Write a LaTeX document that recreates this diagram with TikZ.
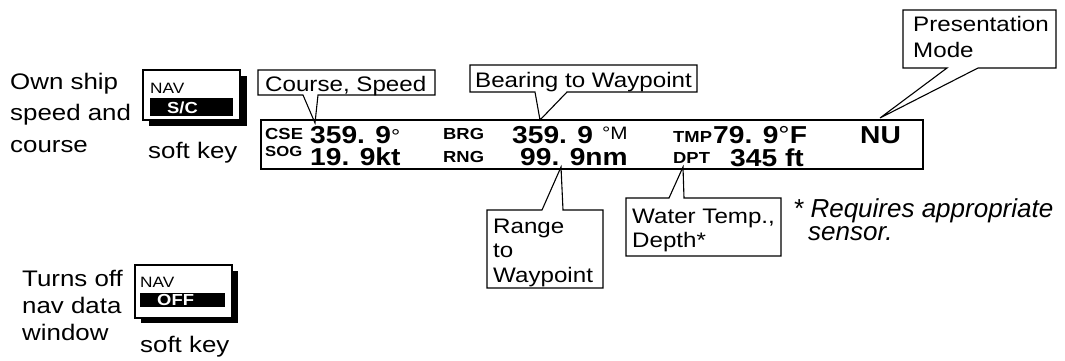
\documentclass[tikz,border=0pt]{standalone}
\usepackage{fontspec}
\setmainfont[FakeStretch=1.15]{Liberation Sans}
\newfontfamily\plainfont{Liberation Sans}
\newcommand\fs[2]{\fontsize{#1}{#2}\selectfont}
\newcommand\mlines[1]{\begin{tabular}[t]{@{}l@{}}#1\end{tabular}}
\begin{document}
\begin{tikzpicture}[x=1pt,y=-1pt,
  txt/.style={inner sep=0pt, anchor=base west},
  side/.style={txt, font=\fs{22.5}{31.5}},
  call/.style={txt, font=\fs{21}{25}},
  callbox/.style={draw, line width=1.1pt, line join=miter},
  lab/.style={txt, font=\bfseries\fs{16}{16}},
  val/.style={txt, font=\bfseries\fs{24.5}{25}},
  keytxt/.style={txt, font=\fs{15}{15}},
  keyon/.style={txt, font=\bfseries\fs{16}{16}, text=white}]
\useasboundingbox (0,0) rectangle (1065,361);

% ---- left labels
\node[side] (own) at (10,89) {\mlines{Own ship\\speed and\\course}};
\node[side, font=\fs{22.5}{27}] (turns) at (22,286) {\mlines{Turns off\\nav data\\window}};

% ---- soft key 1
\fill (149,76) rectangle (247,126);
\draw[fill=white, line width=1.2pt] (143,70) rectangle (240,120);
\fill (150,98) rectangle (233,116);
\node[keytxt] (nav1) at (150,93) {NAV};
\node[keyon] (sc) at (167,113) {S/C};
\node[side] (soft1) at (148,158) {soft key};

% ---- soft key 2
\fill (141,271) rectangle (238,323);
\draw[fill=white, line width=1.2pt] (135,265) rectangle (232,318);
\fill (140,293) rectangle (225,307);
\node[keytxt] (nav2) at (140,287) {NAV};
\node[keyon] (off) at (157,305) {OFF};
\node[side] (soft2) at (140,352) {soft key};

% ---- display window
\node[draw, line width=1.8pt, minimum width=662pt, minimum height=49pt,
      inner sep=0pt, anchor=north west] (disp) at (260,119) {};
\node[lab] (cse) at (265,139) {CSE};
\node[val] (cseval) at (310,143) {359. 9{\mdseries\fs{20}{20}°}};
\node[lab, font=\bfseries\fs{14.5}{15}] (sog) at (265,156) {SOG};
\node[val] (sogval) at (310,165) {19. 9kt};
\node[lab] (brg) at (443,139) {BRG};
\node[val] (brgval) at (512,143) {359. 9};
\node[txt, font=\fs{18}{18}] (brgunit) at (602,139) {°M};
\node[lab] (rng) at (443,162) {RNG};
\node[val] (rngval) at (520,165) {99. 9nm};
\node[lab] (tmp) at (673,142) {TMP};
\node[val] (tmpval) at (713,143) {79. 9{\mdseries°}F};
\node[lab] (dpt) at (673,163) {DPT};
\node[val] (dptval) at (730,166) {345 ft};
\node[val] (nu) at (860,143) {NU};

% ---- callouts
\coordinate (tipCS) at (315,123);
\draw[callbox] (258,70) -- (435,70) -- (435,95) -- (318,95) -- (tipCS) -- (303,95) -- (258,95) -- cycle;
\node[call] (cs) at (265,91) {Course, Speed};

\coordinate (tipBW) at (540,120);
\draw[callbox] (470,65) -- (697,65) -- (697,92) -- (567,92) -- (tipBW) -- (535,92) -- (470,92) -- cycle;
\node[call] (bw) at (475,87) {Bearing to Waypoint};

\coordinate (tipPM) at (880,118);
\draw[callbox] (903,10) -- (1056,10) -- (1056,68) -- (978,68) -- (tipPM) -- (947,68) -- (903,68) -- cycle;
\node[call, font=\fs{21}{26}] (pm) at (913,32) {\mlines{Presentation\\Mode}};

\coordinate (tipRW) at (561,167);
\draw[callbox] (487,210) -- (542,210) -- (tipRW) -- (563,210) -- (603,210) -- (603,288) -- (487,288) -- cycle;
\node[call, font=\fs{21}{24.5}] (rw) at (493,233) {\mlines{Range\\to\\Waypoint}};

\coordinate (tipWD) at (683,167);
\draw[callbox] (626,198) -- (669,198) -- (tipWD) -- (684,198) -- (781,198) -- (781,256) -- (626,256) -- cycle;
\node[call, font=\fs{21}{24}] (wd) at (632,223) {\mlines{Water Temp.,\\Depth*}};

% ---- footnote
\node[txt, font=\plainfont\itshape\fs{26}{23}] (note) at (793,217)
  {\mlines{* Requires appropriate\\\hspace*{15pt}sensor.}};
\end{tikzpicture}
\end{document}
